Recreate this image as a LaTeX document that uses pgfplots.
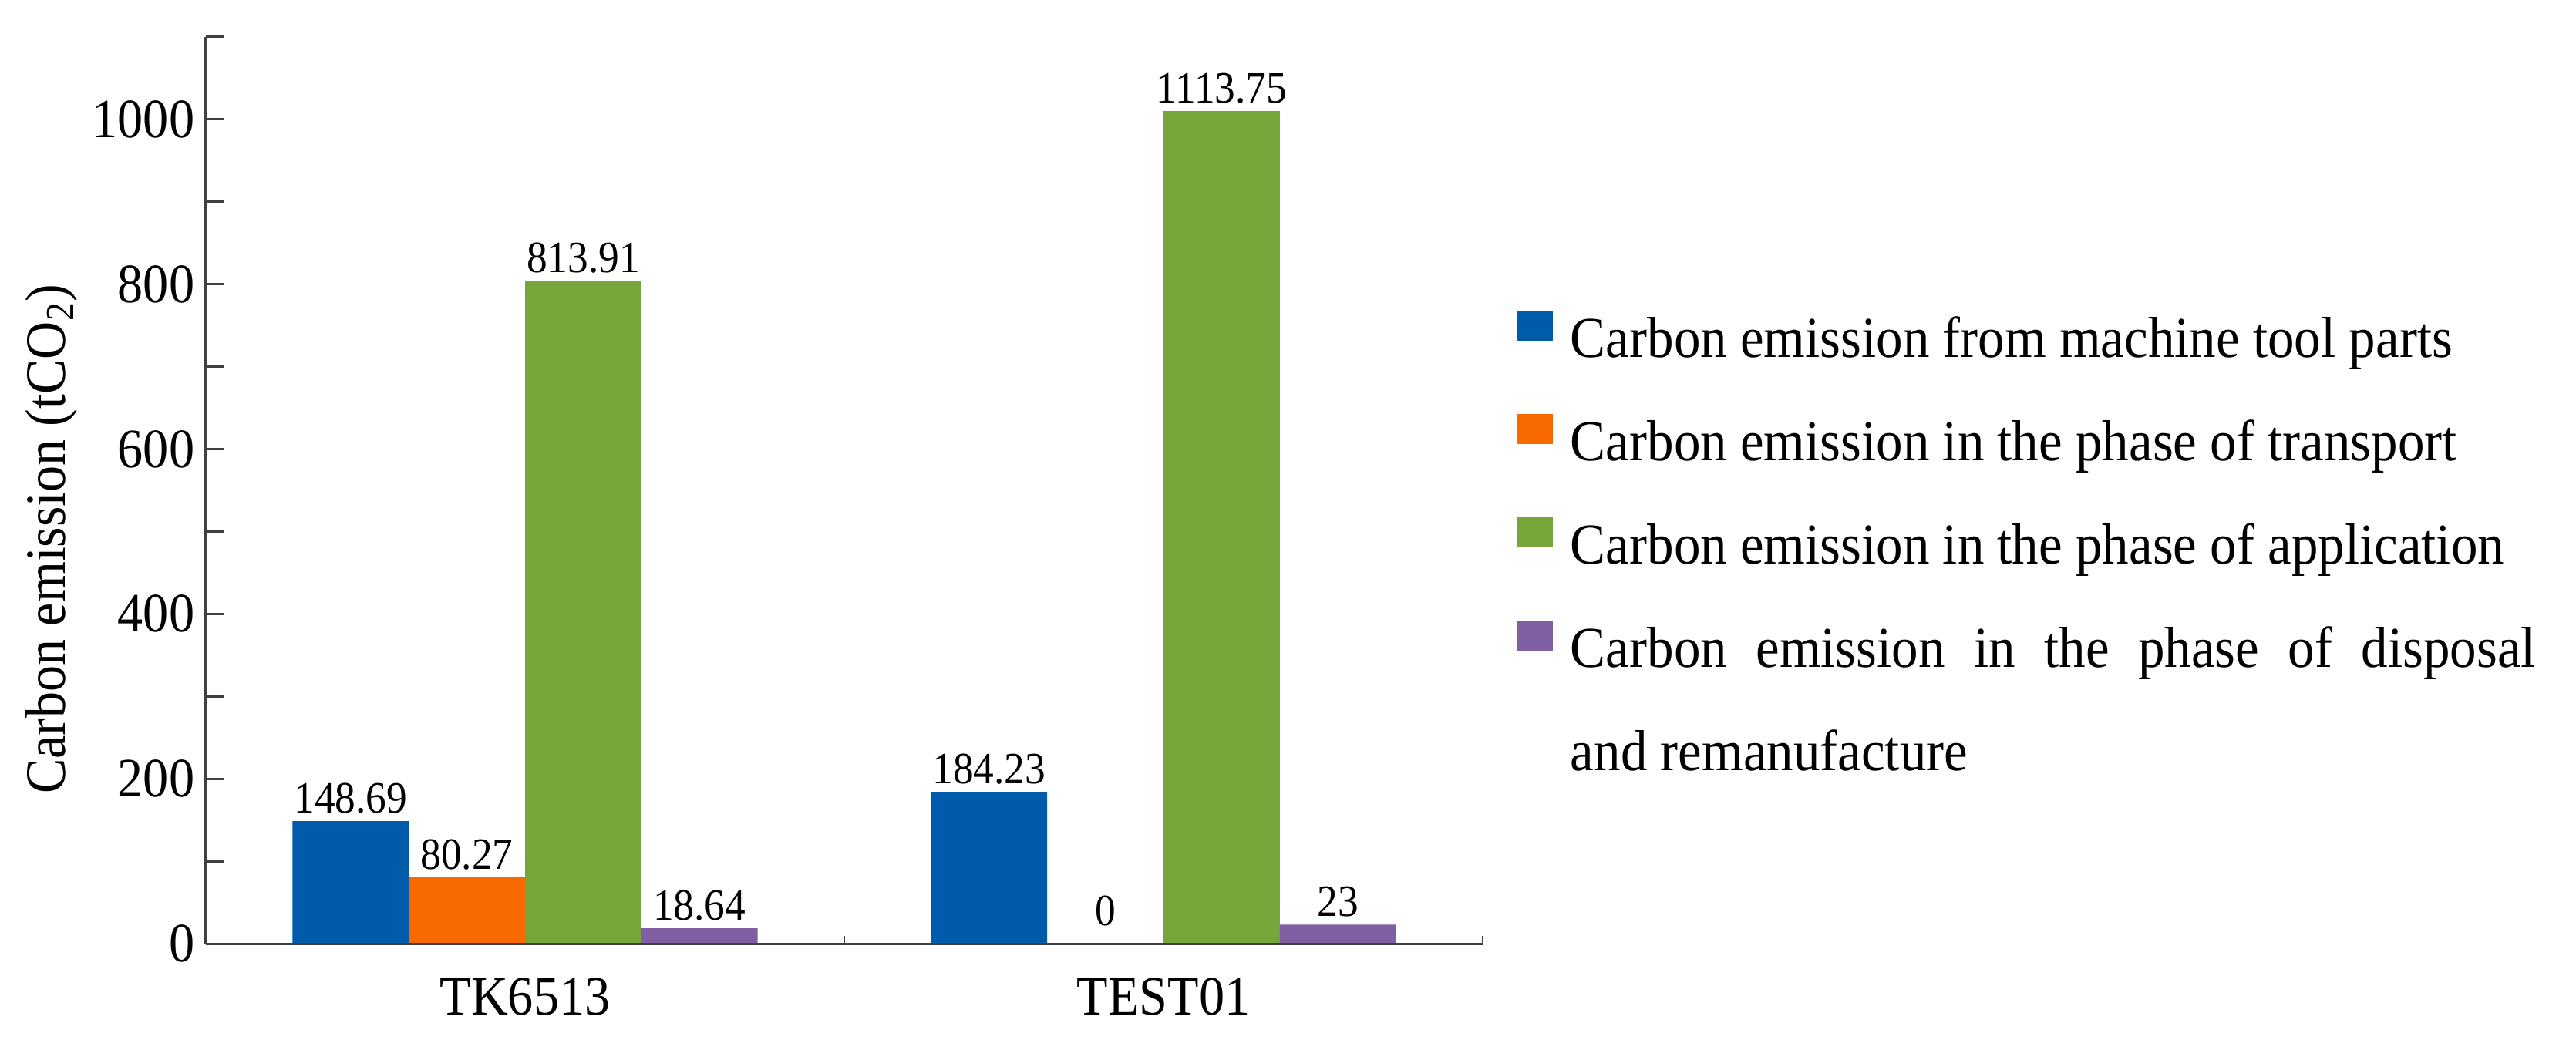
\documentclass[border=0pt]{standalone}
\usepackage{fontspec}
\setmainfont{Liberation Serif}[FakeStretch=0.92]
\usepackage{pgfplots}
\pgfplotsset{compat=1.18}
\usepackage{pgfplotstable}
\definecolor{cblue}{RGB}{0,91,170}
\definecolor{corange}{RGB}{246,106,0}
\definecolor{cgreen}{RGB}{118,166,58}
\definecolor{cpurple}{RGB}{128,96,162}
\definecolor{axisgray}{RGB}{64,64,64}

\pgfplotstableread{
x y label
0.5 148.69 148.69
1.5 184.23 184.23
}\tblA
\pgfplotstableread{
x y label
0.5 80.27 80.27
1.5 0 0
}\tblB
\pgfplotstableread{
x y label
0.5 804 813.91
1.5 1010 1113.75
}\tblC
\pgfplotstableread{
x y label
0.5 18.64 18.64
1.5 23 23
}\tblD

\begin{document}
\begin{tikzpicture}
\path[use as bounding box] (-66.75pt,-34.25pt) rectangle (768.5pt,306pt);
\begin{axis}[
  at={(0pt,0pt)}, anchor=south west,
  scale only axis, width=414pt, height=294pt,
  xmin=0, xmax=2, ymin=0, ymax=1100,
  axis x line*=bottom, axis y line*=left,
  axis line style={-, draw=axisgray, line width=0.75pt},
  axis on top,
  ybar=0pt, bar width=37.7pt,
  xtick={0.5,1.5}, xticklabels={TK6513,TEST01},
  x tick style={draw=none},
  extra x ticks={1,2}, extra x tick labels={},
  extra x tick style={major tick length=2.5pt, x tick style={draw=axisgray, line width=0.6pt}},
  ytick={0,200,...,1000}, minor ytick={100,300,...,1100},
  tick align=inside,
  y tick style={draw=axisgray, line width=0.75pt},
  major tick length=6pt, minor tick length=6pt,
  /pgf/number format/assume math mode=true,
  /pgf/number format/1000 sep={},
  yticklabel style={font=\fontsize{18}{20}\selectfont, inner sep=0pt, xshift=-3.5pt},
  xticklabel style={font=\fontsize{18}{20}\selectfont, inner sep=0pt, yshift=-11pt},
  ylabel={Carbon emission (tCO\textsubscript{2})},
  ylabel style={font=\fontsize{18.5}{20}\selectfont, at={(axis description cs:-0.1208,0.4464)}, anchor=center},
  nodes near coords,
  point meta=explicit symbolic,
  visualization depends on={y \as \yval},
  nodes near coords style={font=\fontsize{14.5}{16}\selectfont, inner sep=0pt, anchor=base,
    yshift={ifthenelse(\yval==0,6,2.75)}, text=black},
  legend style={at={(axis description cs:1.0271,0.7015)}, anchor=north west, draw=none, fill=none,
    inner sep=0pt, outer sep=0pt, row sep=13pt, column sep=5.75pt,
    font=\fontsize{18.75}{22}\selectfont,
    nodes={inner sep=0pt, text height=16pt, text depth=4.5pt}},
  legend cell align=left,
  sq/.style={legend image code/.code={\fill[##1] (0pt,-0.5pt) rectangle (11.5pt,9.25pt);}},
]
\addplot[fill=cblue, draw=none, sq] table[x=x, y=y, meta=label] {\tblA};
\addlegendentry{Carbon emission from machine tool parts}
\addplot[fill=corange, draw=none, sq] table[x=x, y=y, meta=label] {\tblB};
\addlegendentry{Carbon emission in the phase of transport}
\addplot[fill=cgreen, draw=none, sq] table[x=x, y=y, meta=label] {\tblC};
\addlegendentry{Carbon emission in the phase of application}
\addplot[fill=cpurple, draw=none, sq] table[x=x, y=y, meta=label] {\tblD};
\addlegendentry{\parbox[t]{313pt}{\baselineskip=33.5pt Carbon emission in the phase of disposal\linebreak and remanufacture}}
\end{axis}
\end{tikzpicture}
\end{document}
